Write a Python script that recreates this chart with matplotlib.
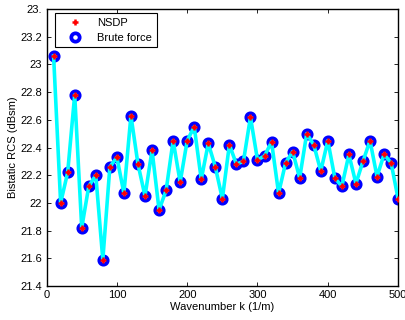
import numpy as np
import matplotlib
matplotlib.use("Agg")
import matplotlib.pyplot as plt

plt.rcParams['font.family'] = ['Liberation Sans', 'DejaVu Sans']

# wavenumber samples (1/m)
k = [10, 20, 30, 40, 50, 60, 70, 80, 90, 100,
     110, 120, 130, 140, 150, 160, 170, 180, 190, 200,
     210, 220, 230, 240, 250, 260, 270, 280, 290, 300,
     310, 320, 330, 340, 350, 360, 370, 380, 390, 400,
     410, 420, 430, 440, 450, 460, 470, 480, 490, 500]

# bistatic RCS (dBsm)
rcs = [23.06, 22.00, 22.22, 22.78, 21.82, 22.12, 22.20, 21.59, 22.26, 22.33,
       22.07, 22.63, 22.28, 22.05, 22.38, 21.95, 22.09, 22.45, 22.15, 22.45,
       22.55, 22.17, 22.43, 22.26, 22.03, 22.42, 22.28, 22.30, 22.62, 22.31,
       22.34, 22.44, 22.07, 22.29, 22.37, 22.18, 22.50, 22.42, 22.23, 22.45,
       22.18, 22.12, 22.35, 22.14, 22.30, 22.45, 22.19, 22.35, 22.29, 22.03]

yticks = [21.4, 21.6, 21.8, 22.0, 22.2, 22.4, 22.6, 22.8, 23.0, 23.2, 23.4]
ytick_labels = ['21.4', '21.6', '21.8', '22', '22.2', '22.4', '22.6', '22.8',
                '23', '23.2', '23.']
xticks = [0, 100, 200, 300, 400, 500]

fig = plt.figure(figsize=(4.05, 3.2), dpi=100)
ax = fig.add_axes([0.115, 0.106, 0.868, 0.866])

# brute force rings, cyan line across them, NSDP crosses in the middle
bf, = ax.plot(k, rcs, 'o', color='blue', mfc='white', mec='blue',
              ms=6, mew=2.7, zorder=2, label='Brute force')
ax.plot(k, rcs, '-', color='cyan', lw=2.6, zorder=3)
ns, = ax.plot(k, rcs, '+', color='red', ms=4, mew=1.8, zorder=4, label='NSDP')

ax.set_xlim(0, 500)
ax.set_ylim(21.4, 23.4)
ax.set_xticks(xticks)
ax.set_yticks(yticks)
ax.set_yticklabels(ytick_labels)
ax.tick_params(direction='in', top=True, right=True, labelsize=8,
               length=3, width=0.6, pad=3)
for s in ax.spines.values():
    s.set_linewidth(1.0)

ax.set_xlabel('Wavenumber k (1/m)', fontsize=8, labelpad=1)
ax.set_ylabel('Bistatic RCS (dBsm)', fontsize=8, labelpad=2)

leg = ax.legend(handles=[ns, bf], loc='upper left', bbox_to_anchor=(0.024, 0.984),
                fontsize=8, fancybox=False, framealpha=1, edgecolor='black',
                borderaxespad=0, handlelength=2.8, handletextpad=0.6,
                borderpad=0.4, labelspacing=0.45)
leg.get_frame().set_linewidth(0.8)

fig.savefig('out.png', dpi=100)
